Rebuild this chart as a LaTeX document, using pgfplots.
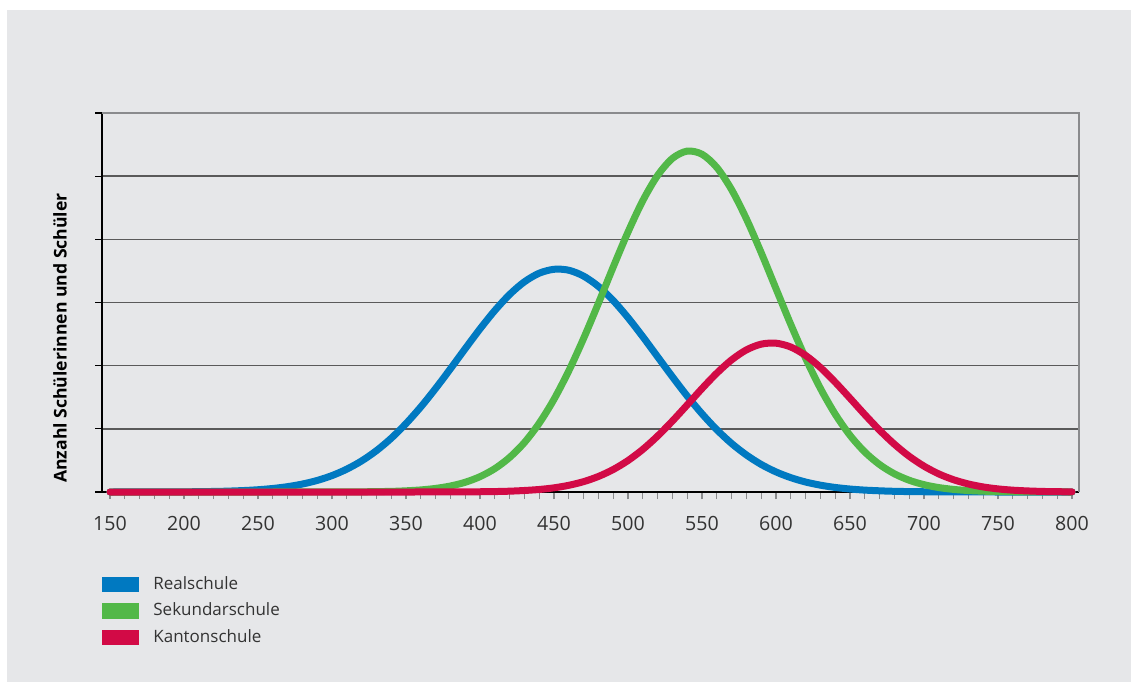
\documentclass[border=0pt]{standalone}
\usepackage{fontspec}
\setmainfont{Open Sans}
\usepackage{pgfplots}
\pgfplotsset{compat=1.18}
\definecolor{bg}{HTML}{E6E7E9}
\definecolor{realC}{HTML}{0079C1}
\definecolor{sekC}{HTML}{52B848}
\definecolor{kanC}{HTML}{D20A46}
\definecolor{gridC}{HTML}{5A5A5A}
\definecolor{frameC}{HTML}{8A8B8D}
\definecolor{textC}{HTML}{333333}

\begin{document}
\begin{tikzpicture}
\path[use as bounding box] (0,0) rectangle (565.5pt,341pt);
\fill[bg] (3.5pt,0) rectangle (565.5pt,336pt);

\begin{axis}[
    at={(51pt,95pt)}, anchor=south west,
    scale only axis,
    width=488.5pt, height=189.5pt,
    xmin=144.6, xmax=804.7,
    ymin=0, ymax=6,
    axis lines=left,
    x axis line style={-, black, line width=1pt},
    y axis line style={-, black, line width=1pt},
    xtick={150,200,...,800},
    minor xtick={160,170,...,790},
    ytick={0,1,...,6},
    yticklabels={},
    ymajorgrids,
    grid style={gridC, line width=0.7pt},
    tick align=outside,
    major tick length=3.5pt,
    minor tick length=3.5pt,
    x tick style={frameC, line width=0.6pt},
    y tick style={black, line width=0.6pt},
    /pgf/number format/assume math mode=true,
    xticklabel style={font=\fontsize{9.8}{11}\selectfont, text=textC, yshift=-5pt},
    clip=false,
    legend style={at={(axis description cs:0,-0.212)}, anchor=north west,
        draw=none, fill=none, inner sep=0pt, row sep=1.2pt,
        font=\fontsize{8.5}{10}\selectfont, text=textC,
        nodes={inner sep=2pt},
        /tikz/every odd column/.append style={column sep=5pt}},
    legend cell align=left,
    legend image code/.code={\fill[#1] (0pt,-2.1pt) rectangle (15pt,2.1pt);},
]

\addplot[color=realC, line width=3.5pt, line cap=round, smooth] coordinates {
(150,0.000) (200,0.003) (225,0.011) (240,0.023) (250,0.036) (260,0.056)
(270,0.085) (280,0.126) (290,0.183) (300,0.260) (310,0.362) (320,0.492)
(330,0.654) (340,0.851) (350,1.083) (360,1.347) (370,1.639) (380,1.950)
(390,2.269) (400,2.582) (410,2.873) (420,3.127) (430,3.328) (440,3.464)
(450,3.526) (460,3.511) (470,3.418) (480,3.255) (490,3.031) (500,2.760)
(510,2.458) (520,2.141) (530,1.824) (540,1.519) (550,1.238) (560,0.986)
(570,0.768) (580,0.586) (590,0.436) (600,0.318) (610,0.227) (620,0.158)
(630,0.108) (640,0.072) (650,0.047) (660,0.030) (670,0.019) (680,0.011)
(700,0.004) (750,0.000) (800,0.000)
};
\addlegendentry{Realschule}

\addplot[color=sekC, line width=3.5pt, line cap=round, smooth] coordinates {
(150,0.000) (250,0.000) (300,0.001) (320,0.003) (340,0.010) (350,0.019)
(360,0.033) (370,0.057) (380,0.095) (390,0.154) (400,0.243) (410,0.370)
(420,0.547) (430,0.783) (440,1.089) (450,1.468) (460,1.919) (470,2.432)
(480,2.988) (490,3.562) (500,4.116) (510,4.613) (520,5.012) (530,5.282)
(540,5.397) (550,5.347) (560,5.138) (570,4.786) (580,4.324) (590,3.788)
(600,3.218) (610,2.651) (620,2.117) (630,1.640) (640,1.232) (650,0.897)
(660,0.633) (670,0.434) (680,0.288) (690,0.186) (700,0.116) (710,0.070)
(720,0.041) (730,0.023) (740,0.013) (750,0.007) (760,0.004) (780,0.001)
(800,0.000)
};
\addlegendentry{Sekundarschule}

\addplot[color=kanC, line width=3.5pt, line cap=round, smooth] coordinates {
(150,0.000) (300,0.000) (350,0.000) (380,0.001) (400,0.004) (410,0.007)
(420,0.013) (430,0.024) (440,0.040) (450,0.066) (460,0.106) (470,0.164)
(480,0.246) (490,0.356) (500,0.498) (510,0.675) (520,0.886) (530,1.124)
(540,1.379) (550,1.638) (560,1.882) (570,2.092) (580,2.250) (590,2.341)
(600,2.356) (610,2.295) (620,2.162) (630,1.971) (640,1.738) (650,1.484)
(660,1.225) (670,0.978) (680,0.756) (690,0.565) (700,0.409) (710,0.286)
(720,0.194) (730,0.127) (740,0.080) (750,0.049) (760,0.029) (770,0.017)
(780,0.009) (790,0.005) (800,0.002)
};
\addlegendentry{Kantonschule}

\draw[frameC, line width=1pt] (rel axis cs:0,1) -- (rel axis cs:1,1) -- (rel axis cs:1,0);
\end{axis}

\node[rotate=90, text=black, font=\bfseries\fontsize{8.8}{10}\selectfont] at (30pt,172pt) {Anzahl Schülerinnen und Schüler};
\end{tikzpicture}
\end{document}
